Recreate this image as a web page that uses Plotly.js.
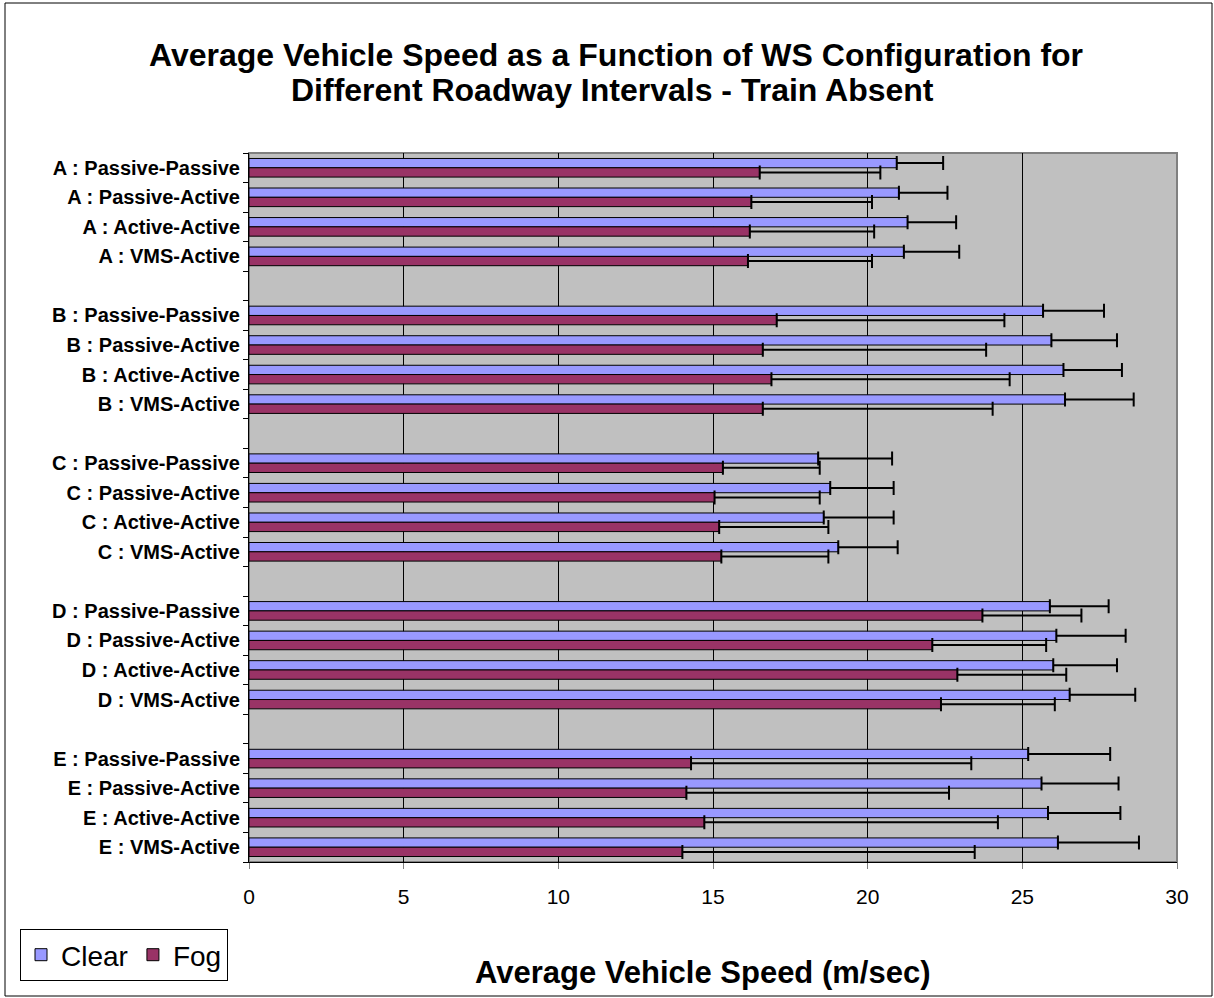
<!DOCTYPE html>
<html>
<head>
<meta charset="utf-8">
<script src="https://cdn.plot.ly/plotly-3.0.1.min.js"></script>
<style>
  body { margin: 0; background: #fff; }
  #plot { width: 1214px; height: 998px; }
</style>
</head>
<body>
<div id="plot"></div>
<script>
// roadway intervals and warning sign configurations
var groups = ["A", "B", "C", "D", "E"];
var configs = ["Passive-Passive", "Passive-Active", "Active-Active", "VMS-Active"];

// mean speed (m/sec), one row per interval
var clearSpeed = [
	[20.94, 21.01, 21.29, 21.17],
	[25.67, 25.94, 26.33, 26.38],
	[18.40, 18.79, 18.58, 19.05],
	[25.89, 26.10, 26.00, 26.53],
	[25.19, 25.62, 25.83, 26.15]
];
var fogSpeed = [
	[16.51, 16.24, 16.19, 16.13],
	[17.06, 16.61, 16.89, 16.61],
	[15.32, 15.05, 15.20, 15.27],
	[23.71, 22.09, 22.90, 22.37],
	[14.29, 14.14, 14.72, 14.01]
];

// upper error bar lengths
var clearErr = [
	[1.50, 1.57, 1.57, 1.79],
	[1.97, 2.12, 1.89, 2.22],
	[2.39, 2.05, 2.26, 1.92],
	[1.90, 2.24, 2.06, 2.12],
	[2.65, 2.49, 2.34, 2.62]
];
var fogErr = [
	[3.90, 3.90, 4.02, 4.01],
	[7.36, 7.22, 7.70, 7.43],
	[3.13, 3.40, 3.53, 3.46],
	[3.20, 3.68, 3.52, 3.68],
	[9.06, 8.49, 9.49, 9.45]
];

var xTicks = [0, 5, 10, 15, 20, 25, 30];

var colors = ["#9999FF", "#993366"];
var fontFamily = "Arial, 'Liberation Sans', sans-serif";

// plot area in pixels
var W = 1214, H = 998;
var M = {l: 249, r: 37, t: 153, b: 136};
var pw = W - M.l - M.r, ph = H - M.t - M.b;

function px2x(p) { return (p - M.l) / pw; }
function px2y(p) { return (H - M.b - p) / ph; }

// one slot per configuration plus an empty slot between intervals
var pos = [], labels = [];
var cx = [], fx = [], ce = [], fe = [], zeros = [];
for (var g = 0; g < groups.length; g++) {
	for (var c = 0; c < configs.length; c++) {
		pos.push(g * (configs.length + 1) + c);
		labels.push("<b>" + groups[g] + " : " + configs[c] + "</b>");
		cx.push(clearSpeed[g][c]);
		fx.push(fogSpeed[g][c]);
		ce.push(clearErr[g][c]);
		fe.push(fogErr[g][c]);
		zeros.push(0);
	}
}
var nSlots = groups.length * (configs.length + 1) - 1;
var yRange = [nSlots - 0.5, -0.5];
var boundaries = [];
for (var i = 0; i <= nSlots; i++) boundaries.push(i - 0.5);

var traces = [
	{
		type: "bar", orientation: "h", name: "Clear",
		x: cx, y: pos,
		marker: {color: colors[0], line: {color: "#000", width: 1}},
		error_x: {type: "data", symmetric: false, array: ce, arrayminus: zeros,
			color: "#000", thickness: 2, width: 7}
	},
	{
		type: "bar", orientation: "h", name: "Fog",
		x: fx, y: pos,
		marker: {color: colors[1], line: {color: "#000", width: 1}},
		error_x: {type: "data", symmetric: false, array: fe, arrayminus: zeros,
			color: "#000", thickness: 2, width: 7}
	},
	// empty trace so the tick-only axis gets drawn
	{
		type: "scatter", x: [null], y: [null], yaxis: "y2",
		showlegend: false, hoverinfo: "skip"
	}
];

var layout = {
	width: W, height: H,
	margin: M,
	paper_bgcolor: "#fff",
	plot_bgcolor: "#C0C0C0",
	font: {family: fontFamily, color: "#000"},
	barmode: "group",
	bargap: 0.37,
	bargroupgap: 0,
	xaxis: {
		range: [0, 30],
		tickvals: xTicks,
		showgrid: true, gridcolor: "#000", gridwidth: 1,
		zeroline: false,
		showline: true, linecolor: "#000", linewidth: 1,
		ticks: "outside", ticklen: 6, tickcolor: "#808080",
		ticklabelstandoff: 10,
		tickfont: {size: 21, family: fontFamily, color: "#000"}
	},
	yaxis: {
		range: yRange,
		tickvals: pos, ticktext: labels,
		showgrid: false, zeroline: false,
		showline: true, linecolor: "#000", linewidth: 1,
		ticks: "",
		ticklabelstandoff: 4,
		tickfont: {size: 20, family: fontFamily, color: "#000"}
	},
	yaxis2: {
		overlaying: "y",
		range: yRange,
		tickvals: boundaries,
		showticklabels: false,
		showgrid: false, zeroline: false, showline: false,
		ticks: "outside", ticklen: 5, tickcolor: "#000"
	},
	showlegend: true,
	legend: {
		orientation: "h",
		x: px2x(20), xanchor: "left",
		y: px2y(929), yanchor: "top",
		bgcolor: "#fff", bordercolor: "#000", borderwidth: 1,
		font: {size: 28, family: fontFamily, color: "#000"},
		traceorder: "normal"
	},
	annotations: [
		{
			text: "<b>Average Vehicle Speed as a Function of WS Configuration for</b>",
			xref: "paper", yref: "paper",
			x: px2x(616), y: px2y(55),
			xanchor: "center", yanchor: "middle", showarrow: false,
			font: {size: 32, family: fontFamily, color: "#000"}
		},
		{
			text: "<b>Different Roadway Intervals - Train Absent</b>",
			xref: "paper", yref: "paper",
			x: px2x(612), y: px2y(90),
			xanchor: "center", yanchor: "middle", showarrow: false,
			font: {size: 32, family: fontFamily, color: "#000"}
		},
		{
			text: "<b>Average Vehicle Speed (m/sec)</b>",
			xref: "paper", yref: "paper",
			x: px2x(702), y: px2y(972),
			xanchor: "center", yanchor: "middle", showarrow: false,
			font: {size: 31, family: fontFamily, color: "#000"}
		}
	],
	shapes: [
		// plot area border
		{type: "rect", xref: "paper", yref: "paper", x0: 0, x1: 1, y0: 0, y1: 1,
			line: {color: "#808080", width: 2}, layer: "below"},
		// chart frame
		{type: "rect", xref: "paper", yref: "paper",
			x0: px2x(5), x1: px2x(1212), y0: px2y(996), y1: px2y(3),
			line: {color: "#000", width: 1}}
	]
};

Plotly.newPlot("plot", traces, layout, {displayModeBar: false, responsive: false});
</script>
</body>
</html>
